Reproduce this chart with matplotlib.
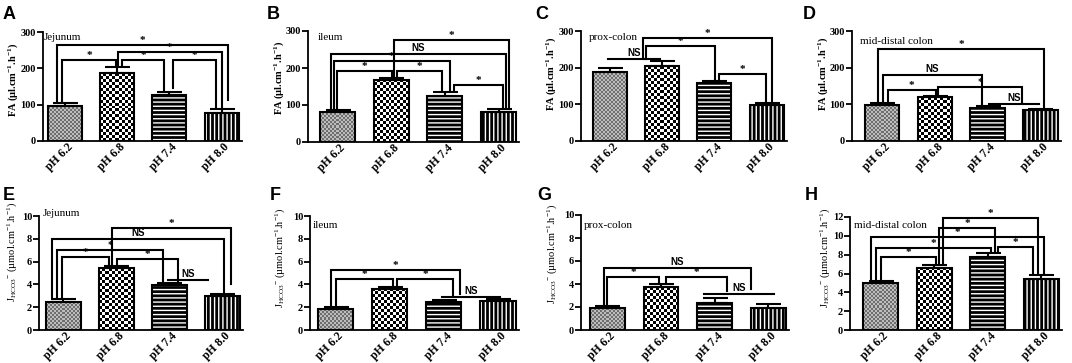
import numpy as np
import matplotlib
matplotlib.use("Agg")
import matplotlib.pyplot as plt
from matplotlib.colors import ListedColormap
from matplotlib.transforms import ScaledTranslation

W, H = 1072, 363

plt.rcParams["mathtext.fontset"] = "custom"
plt.rcParams["mathtext.rm"] = "Liberation Serif"
plt.rcParams["mathtext.it"] = "Liberation Serif:italic"
plt.rcParams["mathtext.bf"] = "Liberation Serif:bold"
plt.rcParams["hatch.linewidth"] = 1.0

categories = ["pH 6.2", "pH 6.8", "pH 7.4", "pH 8.0"]

# FA (ul.cm-1.h-1)
fa_jejunum = [97, 187, 127, 76]
fa_jejunum_err = [7, 18, 9, 12]
fa_ileum = [82, 168, 125, 80]
fa_ileum_err = [4, 5, 9, 8]
fa_prox = [189, 204, 157, 98]
fa_prox_err = [11, 14, 7, 7]
fa_distal = [98, 120, 90, 84]
fa_distal_err = [5, 4, 5, 4]

# J HCO3- (umol.cm-1.h-1)
hco3_jejunum = [2.45, 5.4, 3.95, 3.0]
hco3_jejunum_err = [0.3, 0.25, 0.2, 0.2]
hco3_ileum = [1.8, 3.6, 2.42, 2.52]
hco3_ileum_err = [0.18, 0.17, 0.2, 0.18]
hco3_prox = [1.88, 3.7, 2.35, 1.88]
hco3_prox_err = [0.18, 0.28, 0.4, 0.4]
hco3_distal = [4.95, 6.6, 7.75, 5.45]
hco3_distal_err = [0.3, 0.28, 0.4, 0.35]

# significance brackets: (x left, x right, height, label, left end, right end)
# end None -> just above that bar's error bar
sig_a = [(-0.16, 3.13, 265, "*", None, 112), (1.01, 3.0, 245, "*", None, None),
         (1.09, 1.90, 224, "*", None, None), (2.06, 2.90, 222, "*", 146, None),
         (-0.06, 0.98, 222, "*", None, None)]
sig_b = [(1.05, 3.20, 276, "*", None, None), (-0.13, 3.13, 238, "NS", None, None),
         (-0.07, 2.09, 218, "*", None, None), (-0.01, 1.02, 191, "*", None, None),
         (1.11, 1.94, 191, "*", None, None), (2.17, 3.08, 155, "*", None, None)]
sig_c = [(-0.04, 0.96, 225, "NS", 225, 225), (0.63, 3.10, 282, "*", None, None),
         (0.69, 2.02, 260, "*", None, None), (2.08, 2.99, 183, "*", None, None)]
sig_d = [(-0.08, 3.07, 251, "*", None, None), (0.02, 1.89, 180, "NS", None, None),
         (0.11, 1.02, 139, "*", None, None), (1.07, 2.66, 146, "*", None, 104),
         (2.02, 2.97, 101, "NS", 101, 101)]
sig_e = [(0.92, 3.17, 8.98, "*", None, 4.0), (-0.21, 3.03, 7.95, "NS", None, None),
         (-0.12, 1.89, 7.0, "*", None, None), (-0.02, 0.86, 6.38, "*", None, None),
         (1.01, 2.16, 6.2, "*", None, None), (1.98, 2.73, 4.39, "NS", 4.39, 4.39)]
sig_f = [(-0.08, 2.29, 5.26, "*", None, 3.2), (0.01, 1.06, 4.45, "*", None, None),
         (1.14, 2.17, 4.45, "*", None, 3.0), (1.96, 3.03, 2.92, "NS", 2.92, 2.92)]
sig_g = [(-0.07, 2.68, 5.42, "NS", None, 3.6), (-0.01, 0.97, 4.58, "*", None, None),
         (1.09, 2.22, 4.58, "*", None, 3.35), (1.81, 3.11, 3.13, "NS", 3.13, 3.13)]
sig_h = [(1.17, 2.93, 11.85, "*", None, None), (1.10, 2.13, 10.86, "*", None, None),
         (-0.17, 3.05, 9.84, "*", None, None), (-0.08, 2.07, 8.74, "*", None, None),
         (0.01, 1.04, 7.78, "*", None, None), (2.19, 2.85, 8.85, "*", None, None)]

fa_label = "FA (µl.cm$^{\\mathbf{-1}}$.h$^{\\mathbf{-1}}$)"
hco3_label = "J$_{\\mathrm{HCO3}}$$^{-}$ (µmol.cm$^{-1}$.h$^{-1}$)"

# letter, tissue, means, errs, brackets, ymax, ystep, ylabel
# layout in px: axis x, y of zero, y of top, first bar centre, bar spacing,
# letter pos, tissue pos, ylabel centre
panels = [
    ("A", "Jejunum", fa_jejunum, fa_jejunum_err, sig_a, 300, 100, fa_label,
     (43, 141, 32, 65, 52.2), (3, 6), (44, 37), (13, 80)),
    ("B", "ileum", fa_ileum, fa_ileum_err, sig_b, 300, 100, fa_label,
     (308, 142, 31, 337.5, 53.7), (267, 6), (318, 37), (279, 78)),
    ("C", "prox-colon", fa_prox, fa_prox_err, sig_c, 300, 100, fa_label,
     (581, 141, 31, 610, 52.2), (535, 6), (589, 37), (551, 74)),
    ("D", "mid-distal colon", fa_distal, fa_distal_err, sig_d, 300, 100, fa_label,
     (852, 141, 31, 882, 52.8), (803, 6), (860, 41), (823, 74)),
    ("E", "Jejunum", hco3_jejunum, hco3_jejunum_err, sig_e, 10, 2, hco3_label,
     (39, 330, 216, 63.3, 53), (3, 187), (43, 214), (12, 252)),
    ("F", "ileum", hco3_ileum, hco3_ileum_err, sig_f, 10, 2, hco3_label,
     (310, 330, 216, 335.7, 54.1), (270, 187), (313, 226), (280, 258)),
    ("G", "prox-colon", hco3_prox, hco3_prox_err, sig_g, 10, 2, hco3_label,
     (581, 330, 215, 607.3, 53.7), (537, 187), (584, 226), (552, 254)),
    ("H", "mid-distal colon", hco3_distal, hco3_distal_err, sig_h, 12, 2, hco3_label,
     (850, 330, 217, 880.5, 53.6), (805, 187), (854, 226), (825, 258)),
]

SERIF = "Liberation Serif"
SANS = "Liberation Sans"
bar_w = 0.65


def fx(x):
    return x / W


def fy(y):
    return 1 - y / H


def checker(ax, rect, colors, cell):
    x0, w, h = rect.get_x(), rect.get_width(), rect.get_height()
    p0 = ax.transData.transform((x0, 0))
    p1 = ax.transData.transform((x0 + w, h))
    nx = max(1, int(round((p1[0] - p0[0]) / cell)))
    ny = max(1, int(round((p1[1] - p0[1]) / cell)))
    arr = np.add.outer(np.arange(ny), np.arange(nx)) % 2
    ax.imshow(arr, extent=(x0, x0 + w, 0, h), origin="lower", aspect="auto",
              cmap=ListedColormap(colors), interpolation="nearest", zorder=2)


fig = plt.figure(figsize=(W / 100, H / 100), dpi=100)

for (letter, tissue, means, errs, sigs, ymax, ystep, ylabel,
     lay, lpos, tpos, ypos) in panels:
    axis_x, y0, ytop, c0, sp = lay
    xlo = -(c0 - axis_x) / sp
    xhi = 3 + bar_w / 2 + 0.06
    ax = fig.add_axes([fx(axis_x), fy(y0), (xhi - xlo) * sp / W, (y0 - ytop) / H])
    x = np.arange(len(categories))
    ax.set_xlim(xlo, xhi)
    ax.set_ylim(0, ymax)

    rects = ax.bar(x, means, bar_w, color="none", linewidth=0)
    checker(ax, rects[0], ["#6e6e6e", "#bdbdbd"], 2)
    checker(ax, rects[1], ["white", "black"], 3)
    ax.bar(x[2], means[2], bar_w, color="black", edgecolor="white",
           hatch="----", linewidth=0, zorder=2)
    ax.bar(x[3], means[3], bar_w, color="black", edgecolor="white",
           hatch="||||", linewidth=0, zorder=2)
    ax.bar(x, means, bar_w, fill=False, edgecolor="black", linewidth=1.5, zorder=3)
    ax.errorbar(x, means, yerr=[np.zeros(len(errs)), errs], fmt="none",
                ecolor="black", elinewidth=1.5, capsize=9, capthick=1.5, zorder=4)
    ax.set_xlim(xlo, xhi)
    ax.set_ylim(0, ymax)

    gap = 0.015 * ymax
    for x1, x2, yb, lab, b1, b2 in sigs:
        ends = []
        for xv, b in ((x1, b1), (x2, b2)):
            if b is None:
                k = min(3, max(0, int(round(xv))))
                b = means[k] + errs[k] + gap
            ends.append(b)
        ax.plot([x1, x1, x2, x2], [ends[0], yb, yb, ends[1]], color="black",
                lw=1.5, solid_joinstyle="miter", clip_on=False, zorder=5)
        if lab == "*":
            ax.annotate("*", ((x1 + x2) / 2, yb), xytext=(0, 4.5),
                        textcoords="offset pixels", ha="center", va="center",
                        fontsize=8, fontweight="bold", family=SERIF)
        else:
            ax.annotate(lab, ((x1 + x2) / 2, yb), xytext=(0, 1),
                        textcoords="offset pixels", ha="center", va="bottom",
                        fontsize=7, fontweight="bold", family=SANS)

    for s in ("top", "right"):
        ax.spines[s].set_visible(False)
    for s in ("left", "bottom"):
        ax.spines[s].set_linewidth(1.3)
    ax.set_yticks(np.arange(0, ymax + ystep / 2, ystep))
    ax.tick_params(axis="y", direction="out", length=4, width=1.3, pad=1)
    ax.tick_params(axis="x", length=0, pad=3)
    for t in ax.get_yticklabels():
        t.set_fontfamily(SERIF)
        t.set_fontweight("bold")
        t.set_fontsize(7.5)
    ax.set_xticks(x)
    ax.set_xticklabels(categories, rotation=45, ha="right", va="center",
                       rotation_mode="anchor", fontsize=8.5, fontweight="bold",
                       family=SERIF)
    shift = ScaledTranslation(6 / 100, 0, fig.dpi_scale_trans)
    for t in ax.get_xticklabels():
        t.set_transform(t.get_transform() + shift)

    fig.text(fx(lpos[0]), fy(lpos[1]), letter, ha="left", va="top",
             fontsize=13, fontweight="bold", family=SANS)
    fig.text(fx(tpos[0]), fy(tpos[1]), tissue, ha="left", va="center",
             fontsize=8, family=SERIF)
    fig.text(fx(ypos[0]), fy(ypos[1]), ylabel, ha="center", va="center",
             rotation=90, fontsize=7.5, family=SERIF,
             fontweight="bold" if ylabel == fa_label else "normal")

fig.savefig("out.png", dpi=100, facecolor="white")
